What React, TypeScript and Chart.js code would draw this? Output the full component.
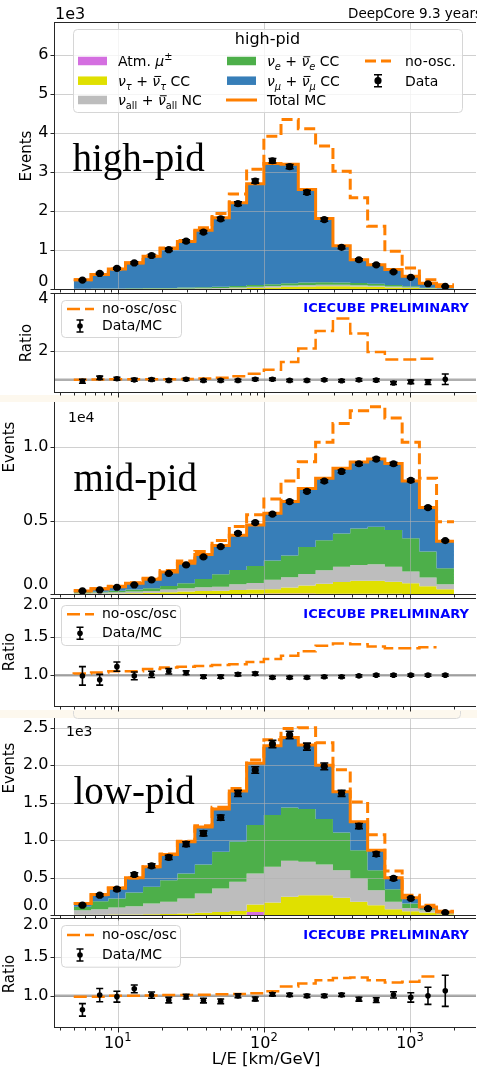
import React, { useEffect, useRef } from 'react';
import { Chart, registerables } from 'chart.js';

Chart.register(...registerables);

// ---------------- styles ----------------
const SANS = '"DejaVu Sans", sans-serif';
const SERIF = '"Liberation Serif", serif';
const ORANGE = '#ff7f00';
const C_MUON = '#d46fe0';
const C_NUTAU = '#e0e000';
const C_NC = '#bdbdbd';
const C_NUE = '#4daf4a';
const C_NUMU = '#377eb8';
const GRID = 'rgba(176,176,176,0.6)';
const FRAME = '#262626';
const CREAM = '#fdf8ee';

// ---------------- binning / x axis ----------------
const BIN_EDGES = [5, 6.57, 8.62, 11.3, 14.9, 19.5, 25.6, 33.7, 44.2, 58.0, 76.2, 100, 131, 172, 226, 297, 390, 513, 673, 884, 1160, 1520, 2000];
const X_MIN = 3.72;
const X_MAX = 2830;
const X_MAJOR_TICKS = [10, 100, 1000];
const X_MAJOR_EXPONENTS = ['1', '2', '3'];
const X_MINOR_TICKS = [4, 5, 6, 7, 8, 9, 20, 30, 40, 50, 60, 70, 80, 90, 200, 300, 400, 500, 600, 700, 800, 900, 2000];
const X_TITLE = 'L/E [km/GeV]';

// ---------------- high-pid ----------------
const HIGH_MUON = [0, 0, 0, 0, 0, 0, 0, 0, 0, 0, 0, 0, 0, 0, 0, 0, 0, 0, 0, 0, 0, 0];
const HIGH_NUTAU = [0, 0, 0, 0, 0, 0, 2, 4, 8, 15, 25, 40, 55, 65, 70, 70, 65, 55, 40, 25, 10, 3];
const HIGH_NC = [4, 5, 6, 8, 10, 12, 14, 16, 20, 24, 30, 35, 38, 40, 40, 38, 34, 30, 25, 18, 10, 5];
const HIGH_NUE = [4, 6, 8, 10, 13, 16, 20, 25, 30, 35, 45, 50, 55, 60, 62, 60, 55, 48, 38, 27, 15, 7];
const HIGH_TOTAL_MC = [240, 375, 510, 670, 840, 1040, 1220, 1510, 1830, 2210, 2700, 3220, 3200, 2550, 1810, 1110, 750, 620, 500, 330, 150, 65];
const HIGH_NO_OSC = [240, 375, 512, 675, 848, 1055, 1245, 1570, 1940, 2440, 3070, 3920, 4350, 4110, 3670, 3020, 2340, 1610, 970, 540, 240, 110];
const HIGH_DATA = [230, 400, 530, 670, 860, 1010, 1230, 1460, 1800, 2190, 2770, 3290, 3140, 2480, 1780, 1070, 750, 620, 440, 300, 135, 66];
const HIGH_DATA_ERR = [15, 20, 23, 26, 30, 32, 35, 38, 42, 47, 53, 57, 56, 50, 42, 33, 27, 25, 21, 17, 12, 8];
const HIGH_RATIO_NO_OSC = [1.0, 1.0, 1.01, 1.02, 1.02, 1.02, 1.02, 1.03, 1.05, 1.07, 1.12, 1.21, 1.35, 1.62, 2.08, 2.69, 3.12, 2.6, 1.96, 1.7, 1.7, 1.73];
const HIGH_RATIO_DATA = [0.95, 1.07, 1.04, 1.0, 1.01, 0.98, 1.02, 0.98, 0.98, 0.98, 1.02, 1.02, 0.98, 0.98, 1.0, 0.97, 1.0, 0.99, 0.89, 0.93, 0.92, 1.02];
const HIGH_RATIO_ERR = [0.07, 0.06, 0.05, 0.05, 0.045, 0.045, 0.04, 0.04, 0.04, 0.04, 0.04, 0.04, 0.04, 0.04, 0.04, 0.04, 0.045, 0.045, 0.05, 0.06, 0.08, 0.18];

// ---------------- mid-pid ----------------
const MID_MUON = [0, 0, 0, 0, 0, 0, 0, 0, 0, 0, 20, 30, 30, 30, 20, 20, 10, 10, 10, 0, 0, 0];
const MID_NUTAU = [10, 20, 30, 50, 80, 120, 170, 200, 220, 270, 280, 290, 420, 550, 680, 800, 890, 890, 820, 730, 520, 330];
const MID_NC = [40, 80, 90, 120, 120, 180, 230, 260, 280, 390, 450, 650, 700, 790, 920, 1030, 1070, 1120, 1030, 800, 600, 330];
const MID_NUE = [70, 60, 110, 130, 200, 240, 340, 570, 850, 980, 1160, 1320, 1480, 1830, 2050, 2270, 2500, 2570, 2500, 2270, 1770, 1090];
const MID_TOTAL_MC = [210, 350, 500, 730, 1000, 1500, 2100, 2700, 3300, 4000, 4700, 5500, 6300, 7200, 7900, 8570, 9000, 9200, 8900, 7700, 5900, 3600];
const MID_NO_OSC = [240, 360, 520, 770, 1080, 1600, 2250, 2900, 3640, 4600, 5400, 6470, 7700, 9020, 10340, 11630, 12500, 12770, 12000, 10340, 7900, 4930];
const MID_DATA = [210, 280, 460, 620, 960, 1400, 1980, 2530, 3230, 4140, 4870, 5450, 6300, 7000, 7700, 8360, 8880, 9200, 8880, 7750, 5890, 3640];
const MID_DATA_ERR = [20, 25, 30, 35, 40, 45, 50, 55, 60, 65, 70, 75, 80, 85, 90, 92, 95, 96, 95, 90, 78, 60];
const MID_RATIO_NO_OSC = [1.01, 1.02, 1.035, 1.05, 1.05, 1.08, 1.1, 1.11, 1.12, 1.13, 1.14, 1.17, 1.21, 1.25, 1.31, 1.38, 1.41, 1.4, 1.37, 1.35, 1.35, 1.36];
const MID_RATIO_DATA = [0.99, 0.94, 1.11, 0.99, 1.01, 1.05, 1.03, 0.98, 0.98, 1.01, 1.02, 0.97, 0.97, 0.97, 0.98, 0.98, 0.99, 1.0, 1.0, 1.0, 1.0, 1.0];
const MID_RATIO_ERR = [0.12, 0.07, 0.06, 0.05, 0.04, 0.035, 0.025, 0.02, 0.02, 0.02, 0.02, 0.015, 0.015, 0.015, 0.015, 0.015, 0.015, 0.015, 0.015, 0.015, 0.015, 0.015];

// ---------------- low-pid ----------------
const LOW_MUON = [0, 0, 0, 0, 0, 0, 0, 0, 0, 2, 40, 0, 0, 0, 0, 0, 0, 0, 0, 0, 0, 0];
const LOW_NUTAU = [4, 5, 6, 8, 10, 12, 20, 30, 40, 50, 100, 167, 242, 265, 265, 229, 176, 131, 78, 50, 33, 10];
const LOW_NC = [60, 73, 94, 110, 143, 164, 200, 257, 314, 393, 414, 476, 482, 445, 410, 370, 312, 201, 98, 45, 31, 15];
const LOW_NUE = [45, 106, 120, 182, 223, 289, 334, 388, 490, 535, 646, 691, 712, 704, 605, 501, 378, 267, 169, 58, 14, 8];
const LOW_TOTAL_MC = [153, 274, 362, 496, 643, 809, 977, 1174, 1414, 1655, 2025, 2260, 2370, 2270, 2000, 1646, 1245, 866, 496, 229, 108, 41];
const LOW_NO_OSC = [152, 272, 360, 495, 645, 815, 985, 1190, 1440, 1690, 2070, 2340, 2490, 2500, 2300, 1940, 1510, 1070, 586, 265, 131, 50];
const LOW_DATA = [131, 265, 345, 541, 656, 768, 947, 1090, 1300, 1624, 1936, 2283, 2404, 2248, 1985, 1624, 1187, 813, 488, 221, 87, 33];
const LOW_DATA_ERR = [11, 16, 19, 23, 26, 28, 31, 33, 36, 40, 44, 48, 49, 47, 45, 40, 34, 29, 22, 15, 9, 6];
const LOW_RATIO_NO_OSC = [0.99, 0.99, 0.99, 1.0, 1.0, 1.005, 1.01, 1.01, 1.015, 1.02, 1.025, 1.035, 1.06, 1.12, 1.16, 1.2, 1.23, 1.235, 1.2, 1.17, 1.18, 1.25];
const LOW_RATIO_DATA = [0.82, 1.01, 0.99, 1.09, 1.01, 0.945, 0.99, 0.94, 0.93, 1.0, 0.96, 1.02, 1.013, 1.0, 1.0, 1.013, 0.957, 0.945, 1.013, 0.98, 1.0, 1.065];
const LOW_RATIO_ERR = [0.08, 0.085, 0.07, 0.05, 0.04, 0.035, 0.03, 0.03, 0.03, 0.025, 0.025, 0.02, 0.02, 0.02, 0.02, 0.02, 0.025, 0.03, 0.04, 0.06, 0.11, 0.2];

// ---------------- y ticks ----------------
const HIGH_EV_TICKS = [0, 1000, 2000, 3000, 4000, 5000, 6000];
const HIGH_EV_LABELS = ['0', '1', '2', '3', '4', '5', '6'];
const HIGH_RA_TICKS = [2, 4];
const HIGH_RA_LABELS = ['2', '4'];
const MID_EV_TICKS = [0, 5000, 10000];
const MID_EV_LABELS = ['0.0', '0.5', '1.0'];
const LOW_EV_TICKS = [0, 500, 1000, 1500, 2000, 2500];
const LOW_EV_LABELS = ['0.0', '0.5', '1.0', '1.5', '2.0', '2.5'];
const RA_TICKS = [1.0, 1.5, 2.0];
const RA_LABELS = ['1.0', '1.5', '2.0'];

// ---------------- texts ----------------
type Part = { t: string; it?: boolean; sub?: boolean; sup?: boolean; bar?: boolean };
const LEGEND_TITLE = 'high-pid';
const LEGEND_ENTRIES: { col: number; row: number; parts: Part[] }[] = [
  { col: 0, row: 0, parts: [{ t: 'Atm. ' }, { t: 'μ', it: true }, { t: '±', sup: true }] },
  { col: 0, row: 1, parts: [{ t: 'ν', it: true }, { t: 'τ', it: true, sub: true }, { t: ' + ' }, { t: 'ν', it: true, bar: true }, { t: 'τ', it: true, sub: true }, { t: ' CC' }] },
  { col: 0, row: 2, parts: [{ t: 'ν', it: true }, { t: 'all', sub: true }, { t: ' + ' }, { t: 'ν', it: true, bar: true }, { t: 'all', sub: true }, { t: ' NC' }] },
  { col: 1, row: 0, parts: [{ t: 'ν', it: true }, { t: 'e', it: true, sub: true }, { t: ' + ' }, { t: 'ν', it: true, bar: true }, { t: 'e', it: true, sub: true }, { t: ' CC' }] },
  { col: 1, row: 1, parts: [{ t: 'ν', it: true }, { t: 'μ', it: true, sub: true }, { t: ' + ' }, { t: 'ν', it: true, bar: true }, { t: 'μ', it: true, sub: true }, { t: ' CC' }] },
  { col: 1, row: 2, parts: [{ t: 'Total MC' }] },
  { col: 2, row: 0, parts: [{ t: 'no-osc.' }] },
  { col: 2, row: 1, parts: [{ t: 'Data' }] },
];

// ---------------- helpers ----------------
function stepPoints(values: number[]) {
  const pts: { x: number; y: number }[] = [];
  values.forEach((v, i) => {
    pts.push({ x: BIN_EDGES[i], y: v });
    pts.push({ x: BIN_EDGES[i + 1], y: v });
  });
  return pts;
}

// like matplotlib step(lower_edges, r, where='pre')
function preStepPoints(values: number[]) {
  const pts = [{ x: BIN_EDGES[0], y: values[0] }];
  for (let i = 1; i < values.length; i++) {
    pts.push({ x: BIN_EDGES[i - 1], y: values[i] });
    pts.push({ x: BIN_EDGES[i], y: values[i] });
  }
  return pts;
}

function pointData(values: number[]) {
  return values.map((v, i) => ({ x: Math.sqrt(BIN_EDGES[i] * BIN_EDGES[i + 1]), y: v }));
}

function cumulative(layers: number[][]) {
  const out: number[][] = [];
  let acc = layers[0].map(() => 0);
  for (const l of layers) {
    acc = acc.map((a, i) => a + l[i]);
    out.push(acc);
  }
  return out;
}

function eventDatasets(mu: number[], tau: number[], nc: number[], nue: number[], total: number[], noOsc: number[], data: number[], err: number[]) {
  const [c1, c2, c3, c4] = cumulative([mu, tau, nc, nue]);
  const fillDs = (vals: number[], color: string, fill: any, order: number, extra: any = {}) => ({
    data: stepPoints(vals), borderWidth: 0, borderColor: 'rgba(0,0,0,0)', backgroundColor: color,
    fill, pointRadius: 0, order, ...extra,
  });
  return [
    fillDs(c1, C_MUON, 'origin', 14),
    fillDs(c2, C_NUTAU, '-1', 13),
    fillDs(c3, C_NC, '-1', 12),
    fillDs(c4, C_NUE, '-1', 11),
    fillDs(total, C_NUMU, '-1', 10, { gridAfter: true }),
    { data: stepPoints(noOsc), borderColor: ORANGE, borderWidth: 3, borderDash: [11, 5], fill: false, pointRadius: 0, order: 3 },
    { data: stepPoints(total), borderColor: ORANGE, borderWidth: 3, fill: false, pointRadius: 0, order: 2 },
    { data: pointData(data), errors: err, capHalf: 4, showLine: false, pointRadius: 3.6, pointBackgroundColor: '#000', pointBorderColor: '#000', pointBorderWidth: 0, order: 1 },
  ];
}

function ratioDatasets(noOscRatio: number[], ratio: number[], err: number[]) {
  return [
    { data: preStepPoints(noOscRatio), borderColor: ORANGE, borderWidth: 2.5, borderDash: [13, 5], fill: false, pointRadius: 0, order: 2 },
    { data: pointData(ratio), errors: err, capHalf: 3.5, showLine: false, pointRadius: 2.8, pointBackgroundColor: '#000', pointBorderColor: '#000', pointBorderWidth: 0, order: 1 },
  ];
}

function drawRich(ctx: CanvasRenderingContext2D, x: number, y: number, parts: Part[], size: number) {
  let cx = x;
  for (const p of parts) {
    const small = p.sub || p.sup;
    const s = small ? size * 0.7 : size;
    ctx.font = `${p.it ? 'italic ' : ''}${s}px ${SANS}`;
    const dy = p.sub ? size * 0.28 : p.sup ? -size * 0.4 : 0;
    ctx.fillText(p.t, cx, y + dy);
    const w = ctx.measureText(p.t).width;
    if (p.bar) {
      ctx.save();
      ctx.strokeStyle = '#000';
      ctx.lineWidth = 1;
      ctx.beginPath();
      ctx.moveTo(cx + 2, y - size * 0.66);
      ctx.lineTo(cx + w + 1, y - size * 0.66);
      ctx.stroke();
      ctx.restore();
    }
    cx += w;
  }
}

function roundRectPath(ctx: CanvasRenderingContext2D, x: number, y: number, w: number, h: number, r: number) {
  ctx.beginPath();
  ctx.moveTo(x + r, y);
  ctx.lineTo(x + w - r, y);
  ctx.arcTo(x + w, y, x + w, y + r, r);
  ctx.lineTo(x + w, y + h - r);
  ctx.arcTo(x + w, y + h, x + w - r, y + h, r);
  ctx.lineTo(x + r, y + h);
  ctx.arcTo(x, y + h, x, y + h - r, r);
  ctx.lineTo(x, y + r);
  ctx.arcTo(x, y, x + r, y, r);
  ctx.closePath();
}

function drawErrGlyph(ctx: CanvasRenderingContext2D, x: number, y: number, half: number, cap: number, r: number) {
  ctx.save();
  ctx.strokeStyle = '#000';
  ctx.lineWidth = 1.6;
  ctx.beginPath();
  ctx.moveTo(x, y - half); ctx.lineTo(x, y + half);
  ctx.moveTo(x - cap, y - half); ctx.lineTo(x + cap, y - half);
  ctx.moveTo(x - cap, y + half); ctx.lineTo(x + cap, y + half);
  ctx.stroke();
  ctx.fillStyle = '#000';
  ctx.beginPath(); ctx.arc(x, y, r, 0, Math.PI * 2); ctx.fill();
  ctx.restore();
}

function vText(ctx: CanvasRenderingContext2D, text: string, x: number, y: number, size: number) {
  ctx.save();
  ctx.translate(x, y);
  ctx.rotate(-Math.PI / 2);
  ctx.font = `${size}px ${SANS}`;
  ctx.textAlign = 'center';
  ctx.textBaseline = 'middle';
  ctx.fillStyle = '#000';
  ctx.fillText(text, 0, 0);
  ctx.restore();
}

function text(ctx: CanvasRenderingContext2D, s: string, x: number, y: number, font: string, align: CanvasTextAlign = 'left', base: CanvasTextBaseline = 'middle', color = '#000') {
  ctx.font = font;
  ctx.textAlign = align;
  ctx.textBaseline = base;
  ctx.fillStyle = color;
  ctx.fillText(s, x, y);
}

function drawMainLegend(ctx: CanvasRenderingContext2D) {
  ctx.save();
  roundRectPath(ctx, 73.5, 29.5, 389, 83, 4);
  ctx.fillStyle = 'rgba(255,255,255,0.8)';
  ctx.fill();
  ctx.strokeStyle = '#d6d6d6';
  ctx.lineWidth = 1;
  ctx.stroke();
  text(ctx, LEGEND_TITLE, 267.5, 40, `16px ${SANS}`, 'center');
  const rows = [61, 80.7, 100];
  const patch = (x: number, y: number, c: string) => { ctx.fillStyle = c; ctx.fillRect(x, y - 4.25, 29, 8.5); };
  patch(78, rows[0], C_MUON); patch(78, rows[1], C_NUTAU); patch(78, rows[2], C_NC);
  patch(227, rows[0], C_NUE); patch(227, rows[1], C_NUMU);
  ctx.strokeStyle = ORANGE; ctx.lineWidth = 3;
  ctx.beginPath(); ctx.moveTo(226, rows[2]); ctx.lineTo(257, rows[2]); ctx.stroke();
  ctx.setLineDash([11, 5]);
  ctx.beginPath(); ctx.moveTo(365, rows[0]); ctx.lineTo(391, rows[0]); ctx.stroke();
  ctx.setLineDash([]);
  drawErrGlyph(ctx, 378, rows[1], 6, 4, 3.6);
  const cols = [118, 267, 405];
  ctx.fillStyle = '#000';
  ctx.textAlign = 'left';
  ctx.textBaseline = 'alphabetic';
  for (const e of LEGEND_ENTRIES) drawRich(ctx, cols[e.col], rows[e.row] + 5, e.parts, 14);
  ctx.restore();
}

function drawRatioLegend(ctx: CanvasRenderingContext2D, x0: number, y0: number, x1: number, y1: number, r1: number, r2: number) {
  ctx.save();
  roundRectPath(ctx, x0 + 0.5, y0 + 0.5, x1 - x0, y1 - y0, 4);
  ctx.fillStyle = 'rgba(255,255,255,0.8)';
  ctx.fill();
  ctx.strokeStyle = '#d6d6d6'; ctx.lineWidth = 1; ctx.stroke();
  ctx.strokeStyle = ORANGE; ctx.lineWidth = 2.5; ctx.setLineDash([13, 5]);
  ctx.beginPath(); ctx.moveTo(67, r1); ctx.lineTo(94, r1); ctx.stroke();
  ctx.setLineDash([]);
  drawErrGlyph(ctx, 80, r2, 6, 3.5, 2.8);
  text(ctx, 'no-osc/osc', 102, r1, `14px ${SANS}`);
  text(ctx, 'Data/MC', 102, r2, `14px ${SANS}`);
  ctx.restore();
}

function icecube(ctx: CanvasRenderingContext2D, y: number) {
  text(ctx, 'ICECUBE PRELIMINARY', 469, y, `bold 13px ${SANS}`, 'right', 'middle', '#0000ff');
}

// ---------------- panels ----------------
type Panel = {
  name: string; kind: 'events' | 'ratio'; top: number; height: number; areaTop: number; areaBottom: number;
  yMin: number; yMax: number; yTicks: number[]; yLabels: string[]; yShift: number[]; frameTop: boolean;
  xLabels: boolean; datasets: any[]; extras: (ctx: CanvasRenderingContext2D) => void;
};

const PANELS: Panel[] = [
  {
    name: 'highEv', kind: 'events', top: 0, height: 300, areaTop: 22, areaBottom: 289,
    yMin: 0, yMax: 6850, yTicks: HIGH_EV_TICKS, yLabels: HIGH_EV_LABELS, yShift: [-7, 0, 0, 0, 0, 0, 0], frameTop: true, xLabels: false,
    datasets: eventDatasets(HIGH_MUON, HIGH_NUTAU, HIGH_NC, HIGH_NUE, HIGH_TOTAL_MC, HIGH_NO_OSC, HIGH_DATA, HIGH_DATA_ERR),
    extras: (ctx) => {
      text(ctx, '1e3', 55, 15, `16px ${SANS}`);
      text(ctx, 'DeepCore 9.3 years', 348, 14, `13.5px ${SANS}`);
      vText(ctx, 'Events', 27, 156, 15);
      text(ctx, 'high-pid', 72.5, 170.7, `39px ${SERIF}`, 'left', 'alphabetic');
      drawMainLegend(ctx);
    },
  },
  {
    name: 'highRa', kind: 'ratio', top: 285, height: 115, areaTop: 293, areaBottom: 392,
    yMin: 0.58, yMax: 4, yTicks: HIGH_RA_TICKS, yLabels: HIGH_RA_LABELS, yShift: [0, 6], frameTop: true, xLabels: false,
    datasets: ratioDatasets(HIGH_RATIO_NO_OSC, HIGH_RATIO_DATA, HIGH_RATIO_ERR),
    extras: (ctx) => {
      vText(ctx, 'Ratio', 27, 343, 15);
      drawRatioLegend(ctx, 61, 300, 181, 337, 309, 326);
      icecube(ctx, 309);
    },
  },
  {
    name: 'midEv', kind: 'events', top: 395, height: 210, areaTop: 402, areaBottom: 594,
    yMin: 0, yMax: 13090, yTicks: MID_EV_TICKS, yLabels: MID_EV_LABELS, yShift: [-9, 0, 0], frameTop: false, xLabels: false,
    datasets: eventDatasets(MID_MUON, MID_NUTAU, MID_NC, MID_NUE, MID_TOTAL_MC, MID_NO_OSC, MID_DATA, MID_DATA_ERR),
    extras: (ctx) => {
      text(ctx, '1e4', 68, 418, `14px ${SANS}`);
      vText(ctx, 'Events', 10, 447, 15);
      text(ctx, 'mid-pid', 73.5, 490.7, `39px ${SERIF}`, 'left', 'alphabetic');
    },
  },
  {
    name: 'midRa', kind: 'ratio', top: 590, height: 125, areaTop: 598, areaBottom: 706,
    yMin: 0.6, yMax: 2.0, yTicks: RA_TICKS, yLabels: RA_LABELS, yShift: [0, 0, 6.5], frameTop: true, xLabels: false,
    datasets: ratioDatasets(MID_RATIO_NO_OSC, MID_RATIO_DATA, MID_RATIO_ERR),
    extras: (ctx) => {
      vText(ctx, 'Ratio', 10, 652, 15);
      drawRatioLegend(ctx, 61, 605, 180, 645, 614.3, 633.3);
      icecube(ctx, 615);
    },
  },
  {
    name: 'lowEv', kind: 'events', top: 711, height: 215, areaTop: 718, areaBottom: 915,
    yMin: 0, yMax: 2630, yTicks: LOW_EV_TICKS, yLabels: LOW_EV_LABELS, yShift: [-9, 0, 0, 0, 0, 0], frameTop: false, xLabels: false,
    datasets: eventDatasets(LOW_MUON, LOW_NUTAU, LOW_NC, LOW_NUE, LOW_TOTAL_MC, LOW_NO_OSC, LOW_DATA, LOW_DATA_ERR),
    extras: (ctx) => {
      ctx.save();
      roundRectPath(ctx, 73.5, 690, 387, 28.5, 4);
      ctx.strokeStyle = '#dadada'; ctx.lineWidth = 1; ctx.stroke();
      ctx.restore();
      text(ctx, '1e3', 66, 732, `14px ${SANS}`);
      vText(ctx, 'Events', 10, 768, 15);
      text(ctx, 'low-pid', 73.5, 804.3, `39px ${SERIF}`, 'left', 'alphabetic');
    },
  },
  {
    name: 'lowRa', kind: 'ratio', top: 910, height: 160, areaTop: 918, areaBottom: 1027,
    yMin: 0.6, yMax: 2.0, yTicks: RA_TICKS, yLabels: RA_LABELS, yShift: [0, 0, 6.8], frameTop: true, xLabels: true,
    datasets: ratioDatasets(LOW_RATIO_NO_OSC, LOW_RATIO_DATA, LOW_RATIO_ERR),
    extras: (ctx) => {
      vText(ctx, 'Ratio', 10, 974, 15);
      drawRatioLegend(ctx, 61, 925, 180, 966.7, 935, 955);
      icecube(ctx, 935.7);
      text(ctx, X_TITLE, 266, 1060, `16.5px ${SANS}`, 'center');
    },
  },
];

// ---------------- plugin ----------------
function drawGridLines(chart: any, p: Panel) {
  const { ctx, chartArea: a } = chart;
  const xs = chart.scales.x, ys = chart.scales.y;
  ctx.save();
  ctx.strokeStyle = GRID;
  ctx.lineWidth = 1;
  ctx.beginPath();
  for (const v of X_MAJOR_TICKS) {
    const px = Math.round(xs.getPixelForValue(v)) + 0.5;
    ctx.moveTo(px, a.top); ctx.lineTo(px, a.bottom);
  }
  for (const v of p.yTicks) {
    const py = Math.round(ys.getPixelForValue(v)) + 0.5;
    ctx.moveTo(a.left, py); ctx.lineTo(a.right, py);
  }
  ctx.stroke();
  ctx.restore();
}

function drawRefLine(chart: any) {
  const { ctx, chartArea: a } = chart;
  const py = chart.scales.y.getPixelForValue(1);
  ctx.save();
  ctx.strokeStyle = 'rgba(140,140,140,0.7)';
  ctx.lineWidth = 2.5;
  ctx.beginPath(); ctx.moveTo(a.left, py); ctx.lineTo(a.right, py); ctx.stroke();
  ctx.restore();
}

function drawErrors(chart: any, meta: any, ds: any) {
  const ctx = chart.ctx;
  const ys = chart.scales.y;
  ctx.save();
  ctx.strokeStyle = '#000';
  ctx.lineWidth = 1.6;
  ctx.beginPath();
  meta.data.forEach((pt: any, j: number) => {
    const v = ds.data[j].y, e = ds.errors[j];
    const yl = ys.getPixelForValue(v - e), yh = ys.getPixelForValue(v + e);
    const x = pt.x, c = ds.capHalf;
    ctx.moveTo(x, yl); ctx.lineTo(x, yh);
    ctx.moveTo(x - c, yl); ctx.lineTo(x + c, yl);
    ctx.moveTo(x - c, yh); ctx.lineTo(x + c, yh);
  });
  ctx.stroke();
  ctx.restore();
}

function makeDeco(p: Panel) {
  return {
    id: 'deco_' + p.name,
    beforeDatasetsDraw(chart: any) {
      if (p.kind === 'ratio') { drawGridLines(chart, p); drawRefLine(chart); }
    },
    afterDatasetDraw(chart: any, args: any) {
      const ds: any = chart.data.datasets[args.index];
      if (ds.gridAfter) drawGridLines(chart, p);
    },
    beforeDatasetDraw(chart: any, args: any) {
      const ds: any = chart.data.datasets[args.index];
      if (ds.errors) drawErrors(chart, args.meta, ds);
    },
    afterDraw(chart: any) {
      const { ctx, chartArea: a } = chart;
      const xs = chart.scales.x, ys = chart.scales.y;
      ctx.save();
      ctx.strokeStyle = FRAME;
      ctx.lineWidth = 1;
      ctx.beginPath();
      const L = a.left - 0.5, B = a.bottom + 0.5, T = a.top + 0.5;
      ctx.moveTo(L, a.top); ctx.lineTo(L, a.bottom + 1);
      ctx.moveTo(L - 0.5, B); ctx.lineTo(a.right, B);
      if (p.frameTop) { ctx.moveTo(L - 0.5, T); ctx.lineTo(a.right, T); }
      for (const v of X_MAJOR_TICKS) {
        const px = Math.round(xs.getPixelForValue(v)) + 0.5;
        ctx.moveTo(px, a.bottom + 1); ctx.lineTo(px, a.bottom + 5.5);
      }
      for (const v of X_MINOR_TICKS) {
        const px = Math.round(xs.getPixelForValue(v)) + 0.5;
        if (px < a.left || px > a.right) continue;
        ctx.moveTo(px, a.bottom + 1); ctx.lineTo(px, a.bottom + 3.5);
      }
      for (const v of p.yTicks) {
        const py = Math.round(ys.getPixelForValue(v)) + 0.5;
        ctx.moveTo(L - 4, py); ctx.lineTo(L, py);
      }
      ctx.stroke();
      p.yTicks.forEach((v, i) => {
        const py = ys.getPixelForValue(v) + p.yShift[i];
        text(ctx, p.yLabels[i], 48.5, py, `16px ${SANS}`, 'right', 'middle', '#000');
      });
      if (p.xLabels) {
        X_MAJOR_TICKS.forEach((v, i) => {
          const px = xs.getPixelForValue(v);
          ctx.font = `16px ${SANS}`;
          const w1 = ctx.measureText('10').width;
          ctx.font = `11.5px ${SANS}`;
          const w2 = ctx.measureText(X_MAJOR_EXPONENTS[i]).width;
          const x0 = px - (w1 + w2) / 2;
          const base = a.bottom + 21;
          text(ctx, '10', x0, base, `16px ${SANS}`, 'left', 'alphabetic');
          text(ctx, X_MAJOR_EXPONENTS[i], x0 + w1, base - 7.5, `11.5px ${SANS}`, 'left', 'alphabetic');
        });
      }
      ctx.translate(0, -p.top);
      p.extras(ctx);
      ctx.restore();
    },
  };
}

function buildConfig(p: Panel): any {
  return {
    type: 'line',
    data: { datasets: p.datasets },
    options: {
      animation: false,
      responsive: false,
      devicePixelRatio: 1,
      events: [],
      layout: { padding: { left: 55, right: 0, top: p.areaTop - p.top, bottom: p.top + p.height - p.areaBottom } },
      scales: {
        x: { type: 'logarithmic', min: X_MIN, max: X_MAX, display: false },
        y: { type: 'linear', min: p.yMin, max: p.yMax, display: false },
      },
      elements: { line: { tension: 0, borderJoinStyle: 'miter', borderCapStyle: 'butt' } },
      plugins: { legend: { display: false }, tooltip: { enabled: false }, title: { display: false } },
    },
    plugins: [makeDeco(p)],
  };
}

function PanelCanvas({ p }: { p: Panel }) {
  const ref = useRef<HTMLCanvasElement>(null);
  useEffect(() => {
    const chart = new Chart(ref.current as HTMLCanvasElement, buildConfig(p));
    return () => chart.destroy();
  }, []);
  return (
    <canvas
      ref={ref}
      width={480}
      height={p.height}
      style={{ position: 'absolute', left: 0, top: p.top, width: 480, height: p.height }}
    />
  );
}

export default function App() {
  return (
    <div style={{ position: 'fixed', left: 0, top: 0, width: 477, height: 1070, overflow: 'hidden', background: '#fff' }}>
      <div style={{ position: 'absolute', left: 0, top: 395, width: 477, height: 7, background: CREAM }} />
      <div style={{ position: 'absolute', left: 0, top: 710, width: 477, height: 8, background: CREAM }} />
      {PANELS.map((p) => (
        <PanelCanvas key={p.name} p={p} />
      ))}
    </div>
  );
}
